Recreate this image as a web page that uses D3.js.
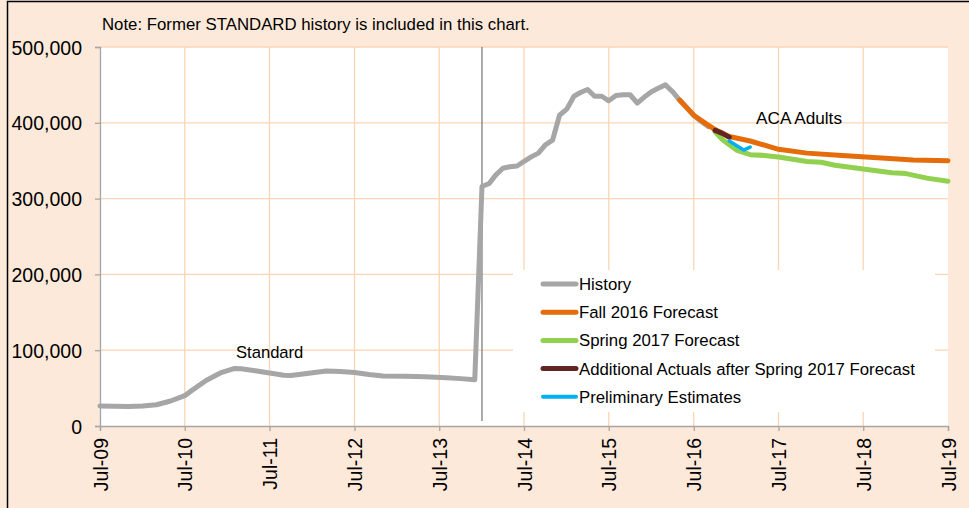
<!DOCTYPE html>
<html>
<head>
<meta charset="utf-8">
<script src="https://cdn.jsdelivr.net/npm/d3@7"></script>
<style>
  body { margin: 0; background: #fff; }
  svg { display: block; font-family: "Liberation Sans", Arial, sans-serif; }
</style>
</head>
<body>
<div id="chart"></div>
<script>
// History (Standard through Dec-13, ACA Adults from Jan-14)
const historyDates = ["2009-07","2009-09","2009-11","2010-01","2010-03","2010-05","2010-07","2010-08","2010-10","2010-12",
    "2011-02","2011-03","2011-05","2011-07","2011-09","2011-10","2011-12","2012-03","2012-05","2012-07",
    "2012-09","2012-11","2013-02","2013-05","2013-08","2013-10","2013-12",
    "2014-01","2014-02","2014-03","2014-04","2014-05","2014-06","2014-07","2014-08","2014-09","2014-10",
    "2014-11","2014-12","2015-01","2015-02","2015-03","2015-04","2015-05","2015-06","2015-07","2015-08",
    "2015-09","2015-10","2015-11","2015-12","2016-01","2016-02","2016-03","2016-04","2016-05","2016-06",
    "2016-07","2016-08","2016-09"];
const historyValues = [26500,26000,25800,26300,28000,33000,40000,47000,60000,70000,
    76000,75500,73000,70000,67000,66500,69000,72500,72000,70500,
    68000,66000,65500,65000,63500,62500,61000,
    316000,320000,331000,340000,342000,343000,349000,355000,360000,371000,
    377000,410000,418000,435000,440000,444000,435000,435000,429000,436000,
    437000,437000,426000,434000,441000,446000,450000,441000,430000,420000,
    410000,402000,395000];

const fallDates = ["2016-05","2016-07","2016-09","2016-10","2016-12","2017-03","2017-07","2017-11","2018-04","2018-09","2019-02","2019-07"];
const fallValues = [430000,410000,397000,391000,382000,376000,365000,360000,357000,354000,351000,350000];

const springDates = ["2016-10","2016-11","2017-01","2017-03","2017-05","2017-07","2017-11","2018-01","2018-03","2018-07","2018-11","2019-01","2019-04","2019-07"];
const springValues = [388000,378000,364000,358000,357000,355000,349000,348000,344000,339000,334000,333000,327000,323000];

const actualDates = ["2016-10","2016-11","2016-12"];
const actualValues = [390000,386000,381000];

const prelimDates = ["2016-12","2017-02","2017-03"];
const prelimValues = [376000,364000,368000];

const seriesNames = ["History","Fall 2016 Forecast","Spring 2017 Forecast","Additional Actuals after Spring 2017 Forecast","Preliminary Estimates"];
const seriesColors = ["#a6a6a6","#e46c0a","#92d050","#632523","#00b0f0"];
const yTicks = [0,100000,200000,300000,400000,500000];

const W = 969, H = 508;
const margin = {top: 47, right: 21, bottom: 82, left: 100};
const parse = d3.timeParse("%Y-%m");

const svg = d3.select("#chart").append("svg")
    .attr("width", W).attr("height", H);

// page background + frame
svg.append("rect").attr("x",0).attr("y",0).attr("width",W).attr("height",H).attr("fill","#fde9d9");
svg.append("rect").attr("x",7.5).attr("y",1.5).attr("width",W).attr("height",H+10)
    .attr("fill","none").attr("stroke","#000").attr("stroke-width",1.5);

const x = d3.scaleTime()
    .domain([parse("2009-07"), parse("2019-07")])
    .range([margin.left, W - margin.right]);
const y = d3.scaleLinear()
    .domain([0, 500000])
    .range([H - margin.bottom, margin.top]);

// plot area
svg.append("rect")
    .attr("x", margin.left).attr("y", margin.top)
    .attr("width", x.range()[1] - margin.left)
    .attr("height", y(0) - margin.top)
    .attr("fill","#fff");

const xTicks = d3.range(2009, 2020).map(yr => parse(yr + "-07"));

// gridlines
const grid = svg.append("g").attr("class","gridG");
grid.selectAll(".hgrid").data(yTicks.slice(1)).join("line")
    .attr("x1", margin.left).attr("x2", x.range()[1])
    .attr("y1", d => y(d)).attr("y2", d => y(d))
    .attr("stroke","#fcd5b4").attr("stroke-width",1.3);
grid.selectAll(".vgrid").data(xTicks.slice(1, -1)).join("line")
    .attr("x1", d => x(d)).attr("x2", d => x(d))
    .attr("y1", margin.top).attr("y2", y(0))
    .attr("stroke","#fcd5b4").attr("stroke-width",1.3);

// axes
const yAxis = svg.append("g")
    .attr("transform","translate(" + margin.left + ",0)")
    .call(d3.axisLeft(y).tickValues(yTicks).tickSize(5).tickPadding(13).tickFormat(d3.format(",")));
const xAxis = svg.append("g")
    .attr("transform","translate(0," + y(0) + ")")
    .call(d3.axisBottom(x).tickValues(xTicks).tickSize(5).tickFormat(d3.timeFormat("%b-%y")));

[yAxis, xAxis].forEach(a => {
    a.select(".domain").attr("stroke","#a6a6a6").attr("stroke-width",1.3);
    a.selectAll(".tick line").attr("stroke","#a6a6a6").attr("stroke-width",1.3);
    a.selectAll("text").attr("fill","#000").style("font-size","19.5px").style("font-family","'Liberation Sans', Arial, sans-serif");
});
yAxis.selectAll("text").attr("dy","0.36em");
xAxis.selectAll("text")
    .attr("transform","rotate(-90)")
    .attr("text-anchor","end")
    .attr("x",-12).attr("y",0).attr("dy","0.36em");

// Jan-14 divider
svg.append("line")
    .attr("x1", x(parse("2014-01"))).attr("x2", x(parse("2014-01")))
    .attr("y1", margin.top).attr("y2", y(0) - 5)
    .attr("stroke","#7f7f7f").attr("stroke-width",1.3);

// legend box (covers gridlines)
svg.append("rect")
    .attr("x",513).attr("y",270).attr("width",422).attr("height",142)
    .attr("fill","#fff");

const line = d3.line()
    .x(d => x(d.date))
    .y(d => y(d.value));

const toRows = (dates, values) => dates.map((d, i) => ({date: parse(d), value: values[i]}));
const allSeries = [
    toRows(historyDates, historyValues),
    toRows(fallDates, fallValues),
    toRows(springDates, springValues),
    toRows(actualDates, actualValues),
    toRows(prelimDates, prelimValues)
];

svg.append("g").selectAll("path").data(allSeries).join("path")
    .attr("d", line)
    .attr("fill","none")
    .attr("stroke", (d, i) => seriesColors[i])
    .attr("stroke-width", (d, i) => i === 4 ? 3.5 : 5)
    .attr("stroke-linejoin","round")
    .attr("stroke-linecap","round");

// legend entries
const legend = svg.append("g").attr("transform","translate(541,284)");
const items = legend.selectAll("g").data(seriesNames).join("g")
    .attr("transform", (d, i) => "translate(0," + i * 28.2 + ")");
items.append("line")
    .attr("x1",2).attr("x2",35).attr("y1",0).attr("y2",0)
    .attr("stroke", (d, i) => seriesColors[i])
    .attr("stroke-width", (d, i) => i === 4 ? 4 : 5)
    .attr("stroke-linecap","round");
items.append("text")
    .attr("x",38).attr("y",0).attr("dy","0.36em")
    .style("font-size","16.8px")
    .text(d => d);

// annotations
svg.append("text").attr("x",102).attr("y",30).style("font-size","16.8px")
    .text("Note: Former STANDARD history is included in this chart.");
svg.append("text").attr("x",236).attr("y",358).style("font-size","16.6px").text("Standard");
svg.append("text").attr("x",756).attr("y",124).style("font-size","17.2px").text("ACA Adults");
</script>
</body>
</html>
